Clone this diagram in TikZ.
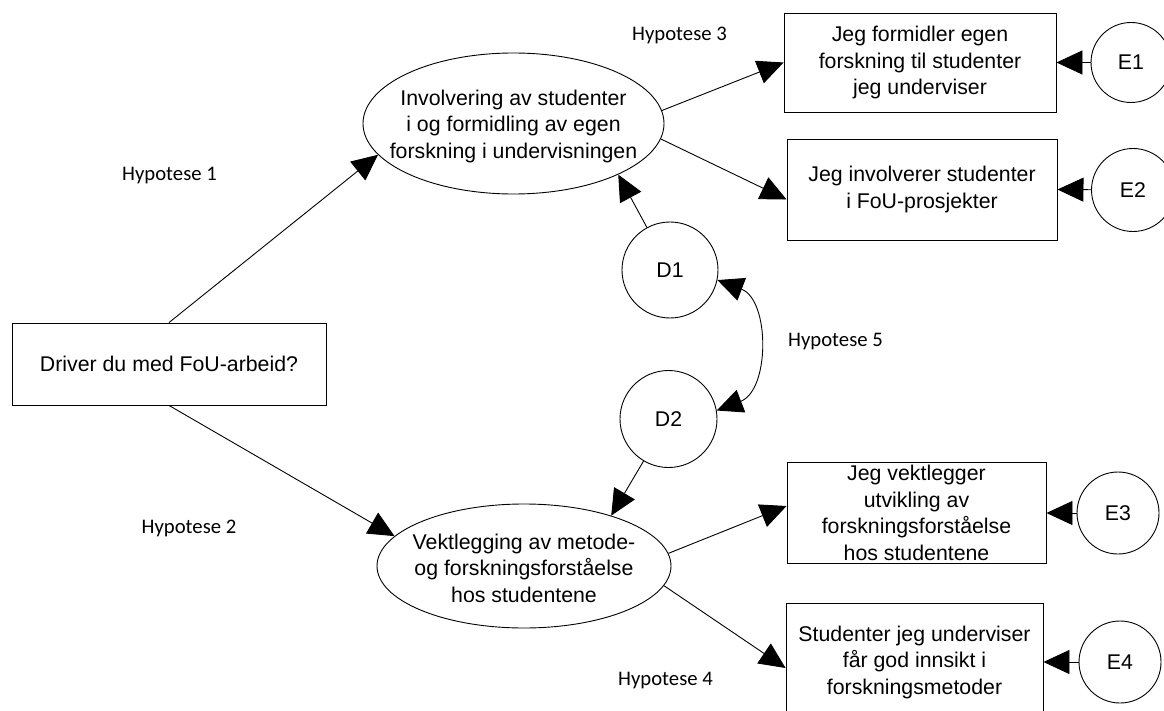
\documentclass[tikz,border=0pt]{standalone}
\usepackage{fontspec}
\setmainfont{Liberation Sans}
\newfontfamily\hypfont{Carlito}
\usetikzlibrary{shapes.geometric,arrows.meta}
\tikzset{
  body/.style={font=\fontsize{21.3}{26.5}\selectfont, align=center, text=black},
  box/.style={body, draw=black, line width=0.9pt, rectangle, inner sep=0pt},
  oval/.style={draw=black, line width=0.9pt, ellipse, inner sep=0pt},
  ring/.style={body, draw=black, line width=0.9pt, circle, inner sep=0pt},
  hyp/.style={font=\hypfont\fontsize{20.7}{25}\selectfont, text=black},
  tip/.style={Triangle[length=26pt,width=24pt]},
  arr/.style={draw=black, line width=0.9pt, -{Triangle[length=26pt,width=24pt]}},
  biarr/.style={draw=black, line width=0.9pt, {Triangle[length=26pt,width=24pt]}-{Triangle[length=26pt,width=24pt]}}
}
\begin{document}
\begin{tikzpicture}[x=1pt,y=-1pt]
\clip (0,0) rectangle (1164,711);
\fill[white] (0,0) rectangle (1164,711);

% starting question
\node[box, minimum width=314pt, minimum height=82pt] (driver) at (169,364) {Driver du med FoU-arbeid?};

% the two latent constructs
\node[oval, minimum width=301pt, minimum height=141pt] (ell1) at (513.5,123.5) {};
\node[body] (ell1t) at (513.5,126) {Involvering av studenter\\i og formidling av egen\\forskning i undervisningen};
\node[oval, minimum width=294pt, minimum height=124pt] (ell2) at (524,566) {};
\node[body] (ell2t) at (524,568) {Vektlegging av metode-\\og forskningsforståelse\\hos studentene};

% disturbances
\node[ring, minimum size=96pt] (D1) at (670,270) {D1};
\node[ring, minimum size=97pt] (D2) at (668.5,419) {D2};

% indicator items
\node[box, minimum width=272pt, minimum height=99pt] (box1) at (920,62.5) {Jeg formidler egen\\forskning til studenter\\jeg underviser};
\node[box, minimum width=270pt, minimum height=101pt] (box2) at (922,189.5) {Jeg involverer studenter\\i FoU-prosjekter};
\node[box, minimum width=259pt, minimum height=101pt] (box3) at (916.5,513) {Jeg vektlegger\\utvikling av\\forskningsforståelse\\hos studentene};
\node[box, minimum width=257pt, minimum height=118pt] (box4) at (914.5,662) {Studenter jeg underviser\\får god innsikt i\\forskningsmetoder};

% error terms
\node[ring, minimum size=80pt] (E1) at (1131,62.5) {E1};
\node[ring, minimum size=83pt] (E2) at (1133,190) {E2};
\node[ring, minimum size=82pt] (E3) at (1118,513) {E3};
\node[ring, minimum size=82pt] (E4) at (1120,662) {E4};

% hypothesis labels
\node[hyp] (h1) at (169.5,176) {Hypotese 1};
\node[hyp] (h2) at (189,528) {Hypotese 2};
\node[hyp] (h3) at (679.5,35) {Hypotese 3};
\node[hyp] (h4) at (665.5,681) {Hypotese 4};
\node[hyp] (h5) at (835.5,342) {Hypotese 5};

% paths
\draw[arr] (driver.north) -- (ell1.193.3);
\draw[arr] (driver.south) -- (ell2.167.3);
\draw[arr] (ell1.5) -- (box1.west);
\draw[arr] (ell1.-6.5) -- ([yshift=-10pt]box2.west);
\draw[arr] (ell2.5) -- ([yshift=7pt]box3.west);
\draw[arr] (ell2.-8) -- ([yshift=-6pt]box4.west);
\draw[arr] (D1) -- (ell1.-26.3);
\draw[arr] (D2) -- (ell2.30.4);
\draw[biarr] (D1.-12) .. controls (770,300) and (770,390) .. (D2.10);
\draw[arr] (E1) -- (box1.east);
\draw[arr] (E2) -- (box2.east);
\draw[arr] (E3) -- (box3.east);
\draw[arr] (E4) -- (box4.east);
\end{tikzpicture}
\end{document}
